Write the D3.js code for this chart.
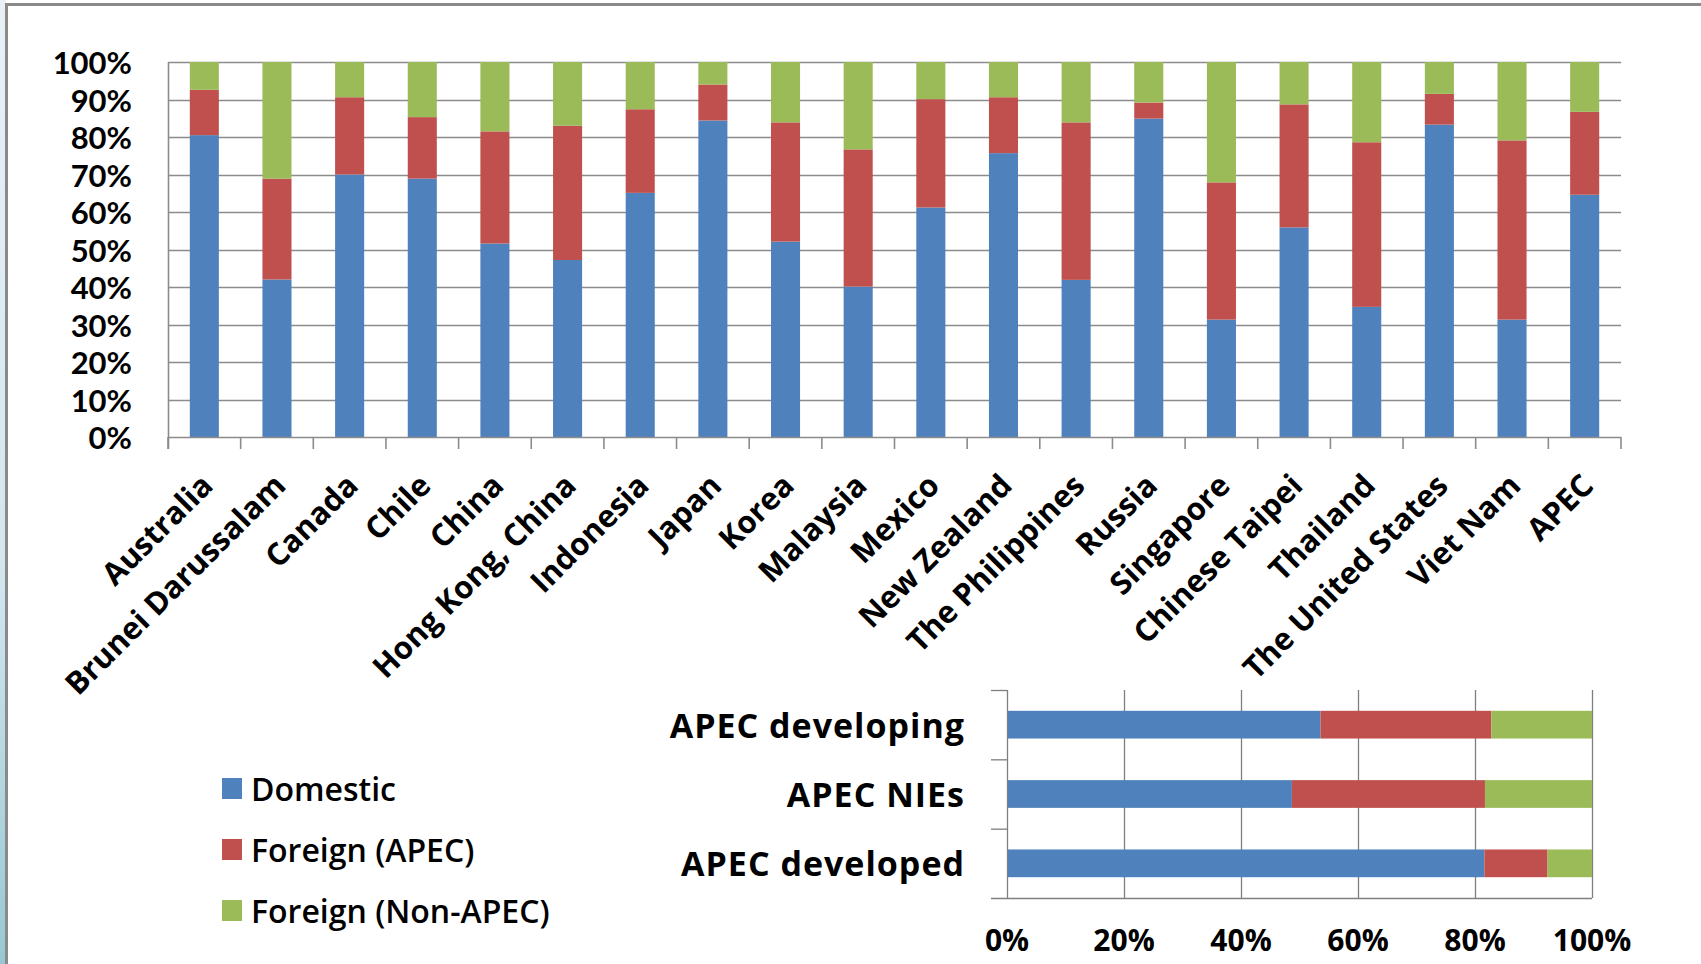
<!DOCTYPE html>
<html>
<head>
<meta charset="utf-8">
<script src="https://cdn.jsdelivr.net/npm/d3@7"></script>
<style>
  html, body { margin: 0; padding: 0; background: #fff; }
  svg { display: block; font-family: "Open Sans", sans-serif; }
</style>
</head>
<body>
<svg id="chart" width="1701" height="964"></svg>
<script>
// economies, shares in percent
var categories = ["Australia", "Brunei Darussalam", "Canada", "Chile", "China",
  "Hong Kong, China", "Indonesia", "Japan", "Korea", "Malaysia", "Mexico",
  "New Zealand", "The Philippines", "Russia", "Singapore", "Chinese Taipei",
  "Thailand", "The United States", "Viet Nam", "APEC"];
var domestic = [80.5, 42.0, 70.0, 68.9, 51.6, 47.2, 65.1, 84.4, 52.1, 40.1,
  61.2, 75.7, 41.9, 84.9, 31.3, 55.9, 34.7, 83.3, 31.3, 64.6];
var foreignApec = [12.1, 26.9, 20.6, 16.4, 29.9, 35.8, 22.3, 9.6, 31.8, 36.6,
  28.9, 14.9, 42.0, 4.3, 36.6, 32.8, 43.9, 8.2, 47.8, 22.1];
var foreignNonApec = [7.4, 31.1, 9.4, 14.7, 18.5, 17.0, 12.6, 6.0, 16.1, 23.3,
  9.9, 9.4, 16.1, 10.8, 32.1, 11.3, 21.4, 8.5, 20.9, 13.3];

// groups (small horizontal chart)
var groups = ["APEC developing", "APEC NIEs", "APEC developed"];
var groupDomestic = [53.6, 48.7, 81.6];
var groupApec = [29.2, 33.0, 10.8];
var groupNonApec = [17.2, 18.3, 7.6];

var seriesNames = ["Domestic", "Foreign (APEC)", "Foreign (Non-APEC)"];
var yTicks = [0, 10, 20, 30, 40, 50, 60, 70, 80, 90, 100];
var xTicks = [0, 20, 40, 60, 80, 100];

var colors = ["#4F81BD", "#C0504D", "#9BBB59"];
var gridColor = "#8c8c8c";

var svg = d3.select("#chart");

// background strip + frame
var grad = svg.append("defs").append("linearGradient")
  .attr("id", "strip").attr("x1", 0).attr("x2", 0).attr("y1", 0).attr("y2", 1);
grad.append("stop").attr("offset", "0%").attr("stop-color", "#e9f1f7");
grad.append("stop").attr("offset", "60%").attr("stop-color", "#d2e6ee");
grad.append("stop").attr("offset", "100%").attr("stop-color", "#98c8d3");
svg.append("rect").attr("x", 0).attr("y", 0).attr("width", 6).attr("height", 964)
  .attr("fill", "url(#strip)");
svg.append("path")
  .attr("d", "M6.5,964V4.5H1701")
  .attr("fill", "none").attr("stroke", "#8a8a8a").attr("stroke-width", 3);

// ---------- main stacked column chart ----------
var rows = categories.map(function (c, i) {
  return { name: c, Domestic: domestic[i], "Foreign (APEC)": foreignApec[i],
    "Foreign (Non-APEC)": foreignNonApec[i] };
});
var stack = d3.stack().keys(seriesNames);

var m = { left: 168, right: 1621, top: 62, bottom: 437 };
var x = d3.scaleBand().domain(categories).range([m.left, m.right])
  .paddingInner(0.6).paddingOuter(0.3);
var y = d3.scaleLinear().domain([0, 100]).range([m.bottom, m.top]);

var main = svg.append("g");

// gridlines
main.append("g").selectAll("line").data(yTicks.slice(1)).join("line")
  .attr("x1", m.left).attr("x2", m.right)
  .attr("y1", function (d) { return Math.round(y(d)) + 0.5; })
  .attr("y2", function (d) { return Math.round(y(d)) + 0.5; })
  .attr("stroke", gridColor).attr("stroke-width", 1.6);

main.append("g").selectAll("g").data(stack(rows)).join("g")
  .attr("fill", function (d, i) { return colors[i]; })
  .selectAll("rect").data(function (d) { return d; }).join("rect")
  .attr("x", function (d) { return x(d.data.name); })
  .attr("width", x.bandwidth())
  .attr("y", function (d) { return y(d[1]); })
  .attr("height", function (d) { return y(d[0]) - y(d[1]); });

// y axis labels (Lato keeps the line box under the 10% step)
main.append("g").selectAll("text").data(yTicks).join("text")
  .attr("x", 132).attr("y", function (d) { return y(d); })
  .attr("text-anchor", "end").attr("dominant-baseline", "central")
  .style("font-family", "Lato, 'Open Sans', sans-serif")
  .style("font-size", "31px").style("font-weight", "bold")
  .text(function (d) { return d + "%"; });

// axis lines
main.append("line").attr("x1", m.left + 0.5).attr("x2", m.left + 0.5)
  .attr("y1", m.top).attr("y2", m.bottom + 12)
  .attr("stroke", gridColor).attr("stroke-width", 1.6);
main.append("line").attr("x1", m.left).attr("x2", m.right)
  .attr("y1", m.bottom + 0.5).attr("y2", m.bottom + 0.5)
  .attr("stroke", gridColor).attr("stroke-width", 1.6);
main.append("g").selectAll("line").data(d3.range(categories.length + 1)).join("line")
  .attr("x1", function (i) { return m.left + i * (m.right - m.left) / categories.length; })
  .attr("x2", function (i) { return m.left + i * (m.right - m.left) / categories.length; })
  .attr("y1", m.bottom).attr("y2", m.bottom + 12)
  .attr("stroke", gridColor).attr("stroke-width", 1.6);

// rotated category labels
main.append("g").selectAll("text").data(categories).join("text")
  .attr("transform", function (d) {
    var cx = x(d) + x.bandwidth() / 2;
    return "translate(" + (cx + 2) + "," + (m.bottom + 42) + ") rotate(-45)";
  })
  .attr("text-anchor", "end").attr("dominant-baseline", "central")
  .style("font-size", "31px").style("font-weight", "bold")
  .text(function (d) { return d; });

// ---------- small horizontal chart ----------
var grows = groups.map(function (g, i) {
  return { name: g, Domestic: groupDomestic[i], "Foreign (APEC)": groupApec[i],
    "Foreign (Non-APEC)": groupNonApec[i] };
});
var h = { left: 1007, right: 1592, top: 690, bottom: 898 };
var hx = d3.scaleLinear().domain([0, 100]).range([h.left, h.right]);
var hy = d3.scaleBand().domain(groups).range([h.top, h.bottom])
  .paddingInner(0.6).paddingOuter(0.3);
var hstep = (h.bottom - h.top) / groups.length;
var small = svg.append("g");

small.append("g").selectAll("line").data(xTicks.slice(1)).join("line")
  .attr("x1", function (d) { return Math.round(hx(d)) + 0.5; })
  .attr("x2", function (d) { return Math.round(hx(d)) + 0.5; })
  .attr("y1", h.top).attr("y2", h.bottom)
  .attr("stroke", "#7f7f7f").attr("stroke-width", 1.3);

small.append("g").selectAll("g").data(stack(grows)).join("g")
  .attr("fill", function (d, i) { return colors[i]; })
  .selectAll("rect").data(function (d) { return d; }).join("rect")
  .attr("y", function (d) { return hy(d.data.name); })
  .attr("height", hy.bandwidth())
  .attr("x", function (d) { return hx(d[0]); })
  .attr("width", function (d) { return hx(d[1]) - hx(d[0]); });

small.append("line").attr("x1", h.left + 0.5).attr("x2", h.left + 0.5)
  .attr("y1", h.top).attr("y2", h.bottom)
  .attr("stroke", "#7f7f7f").attr("stroke-width", 1.3);
small.append("line").attr("x1", h.left - 16).attr("x2", h.right)
  .attr("y1", h.bottom + 0.5).attr("y2", h.bottom + 0.5)
  .attr("stroke", "#7f7f7f").attr("stroke-width", 1.3);
small.append("g").selectAll("line").data(d3.range(groups.length)).join("line")
  .attr("x1", h.left - 16).attr("x2", h.left)
  .attr("y1", function (i) { return h.top + i * hstep + 0.5; })
  .attr("y2", function (i) { return h.top + i * hstep + 0.5; })
  .attr("stroke", "#7f7f7f").attr("stroke-width", 1.3);

small.append("g").selectAll("text").data(groups).join("text")
  .attr("x", 965).attr("y", function (d) { return hy(d) + hy.bandwidth() / 2; })
  .attr("text-anchor", "end").attr("dominant-baseline", "central")
  .style("font-size", "34px").style("font-weight", "bold")
  .style("letter-spacing", "1px")
  .text(function (d) { return d; });

small.append("g").selectAll("text").data(xTicks).join("text")
  .attr("x", function (d) { return hx(d); }).attr("y", 939)
  .attr("text-anchor", "middle").attr("dominant-baseline", "central")
  .style("font-size", "30px").style("font-weight", "bold")
  .text(function (d) { return d + "%"; });

// ---------- legend ----------
var legendY = [788, 849, 910];
var legend = svg.append("g").selectAll("g").data(seriesNames).join("g")
  .attr("transform", function (d, i) { return "translate(222," + legendY[i] + ")"; });
legend.append("rect").attr("x", 0).attr("y", -10).attr("width", 20).attr("height", 21)
  .attr("fill", function (d, i) { return colors[i]; });
legend.append("text").attr("x", 29).attr("y", 0)
  .attr("dominant-baseline", "central")
  .style("font-size", "32px").style("font-weight", 600)
  .text(function (d) { return d; });
</script>
</body>
</html>
